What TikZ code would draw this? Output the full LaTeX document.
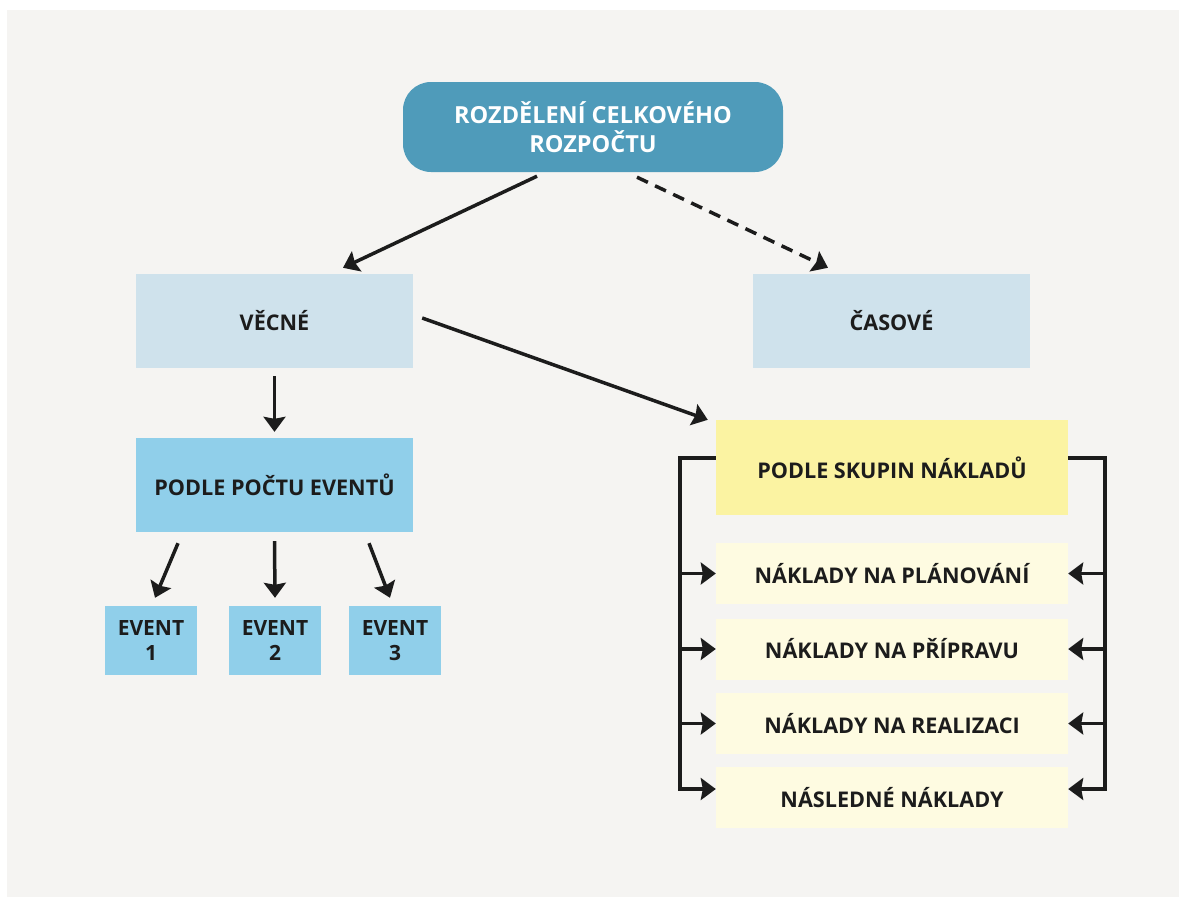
\documentclass[tikz,border=0pt]{standalone}
\usepackage{fontspec}
\setmainfont{Open Sans}
\usetikzlibrary{arrows.meta,positioning,calc}
\definecolor{pozadi}{HTML}{F5F4F2}
\definecolor{modra}{HTML}{4F9BBA}
\definecolor{svetlemodra}{HTML}{CFE2EC}
\definecolor{nebeska}{HTML}{90CFEA}
\definecolor{zluta}{HTML}{FBF3A2}
\definecolor{svetlezluta}{HTML}{FEFBE1}
\definecolor{cerna}{HTML}{1C1C1C}

\begin{document}
\begin{tikzpicture}[x=1pt,y=-1pt,>={Stealth[length=15pt,width=22pt,inset=2pt]},font=\fontsize{21.6}{29}\selectfont\bfseries]
\tikzstyle{box}=[inner sep=0pt,align=center,text=cerna]
\tikzstyle{ln}=[draw=cerna,line width=3.5pt]
\useasboundingbox (0,0) rectangle (1179,898);
\fill[pozadi] (7,10) rectangle (1179,897);
% horni uroven
\node[box,fill=modra,text=white,rounded corners=28pt,minimum width=380pt,minimum height=90pt,font=\fontsize{23.5}{29}\selectfont\bfseries] (celek) at (593,127) {ROZDĚLENÍ CELKOVÉHO\\ROZPOČTU};
\node[box,fill=svetlemodra,minimum width=277pt,minimum height=94pt] (vecne) at (274.5,321) {VĚCNÉ};
\node[box,fill=svetlemodra,minimum width=277pt,minimum height=94pt] (casove) at (891.5,321) {ČASOVÉ};
% leva vetev
\node[box,fill=nebeska,minimum width=277pt,minimum height=94pt] (pocet) at (274.5,485) {PODLE POČTU EVENTŮ};
\foreach \i/\x in {1/151,2/275,3/395} \node[box,fill=nebeska,minimum width=92pt,minimum height=69pt,font=\fontsize{21}{25}\selectfont\bfseries] (ev\i) at (\x,640.5) {EVENT\\\i};
% prava vetev
\node[box,fill=zluta,minimum width=352pt,minimum height=95pt] (skupiny) at (892,467.5) {PODLE SKUPIN NÁKLADŮ};
\foreach \i/\y/\t in {1/573.5/{NÁKLADY NA PLÁNOVÁNÍ},2/649/{NÁKLADY NA PŘÍPRAVU},3/723.5/{NÁKLADY NA REALIZACI},4/797.5/{NÁSLEDNÉ NÁKLADY}} \node[box,fill=svetlezluta,minimum width=352pt,minimum height=61pt] (n\i) at (892,\y) {\t};
% sipky
\draw[ln,->] ([xshift=-56pt,yshift=-4pt]celek.south) -- ([xshift=68.5pt,yshift=6pt]vecne.north);
\draw[ln,->,dash pattern=on 12pt off 8pt] ([xshift=44pt,yshift=-5pt]celek.south) -- ([xshift=-63.5pt,yshift=6pt]casove.north);
\draw[ln,->] ([yshift=-8pt]vecne.south) -- ([yshift=6pt]pocet.north);
\draw[ln,->] ([xshift=9pt,yshift=3pt]vecne.east) -- ([xshift=-8pt]skupiny.north west);
\draw[ln,->] ([xshift=-96.5pt,yshift=-11pt]pocet.south) -- ([xshift=4pt,yshift=8pt]ev1.north);
\draw[ln,->] ([yshift=-9pt]pocet.south) -- ([yshift=8pt]ev2.north);
\draw[ln,->] ([xshift=94.5pt,yshift=-11pt]pocet.south) -- ([xshift=-5pt,yshift=8pt]ev3.north);
% zavorky
\coordinate (lh) at (680,458); \coordinate (ld) at (680,789);
\coordinate (ph) at (1105,458); \coordinate (pd) at (1105,789);
\draw[ln,->] (skupiny.west |- lh) -- (lh) -- (ld) -- (ld -| n4.west);
\draw[ln,->] (skupiny.east |- ph) -- (ph) -- (pd) -- (pd -| n4.east);
\foreach \i in {1,2,3} {\draw[ln,->] (lh |- n\i.west) -- (n\i.west); \draw[ln,->] (ph |- n\i.east) -- (n\i.east);}
\end{tikzpicture}
\end{document}
